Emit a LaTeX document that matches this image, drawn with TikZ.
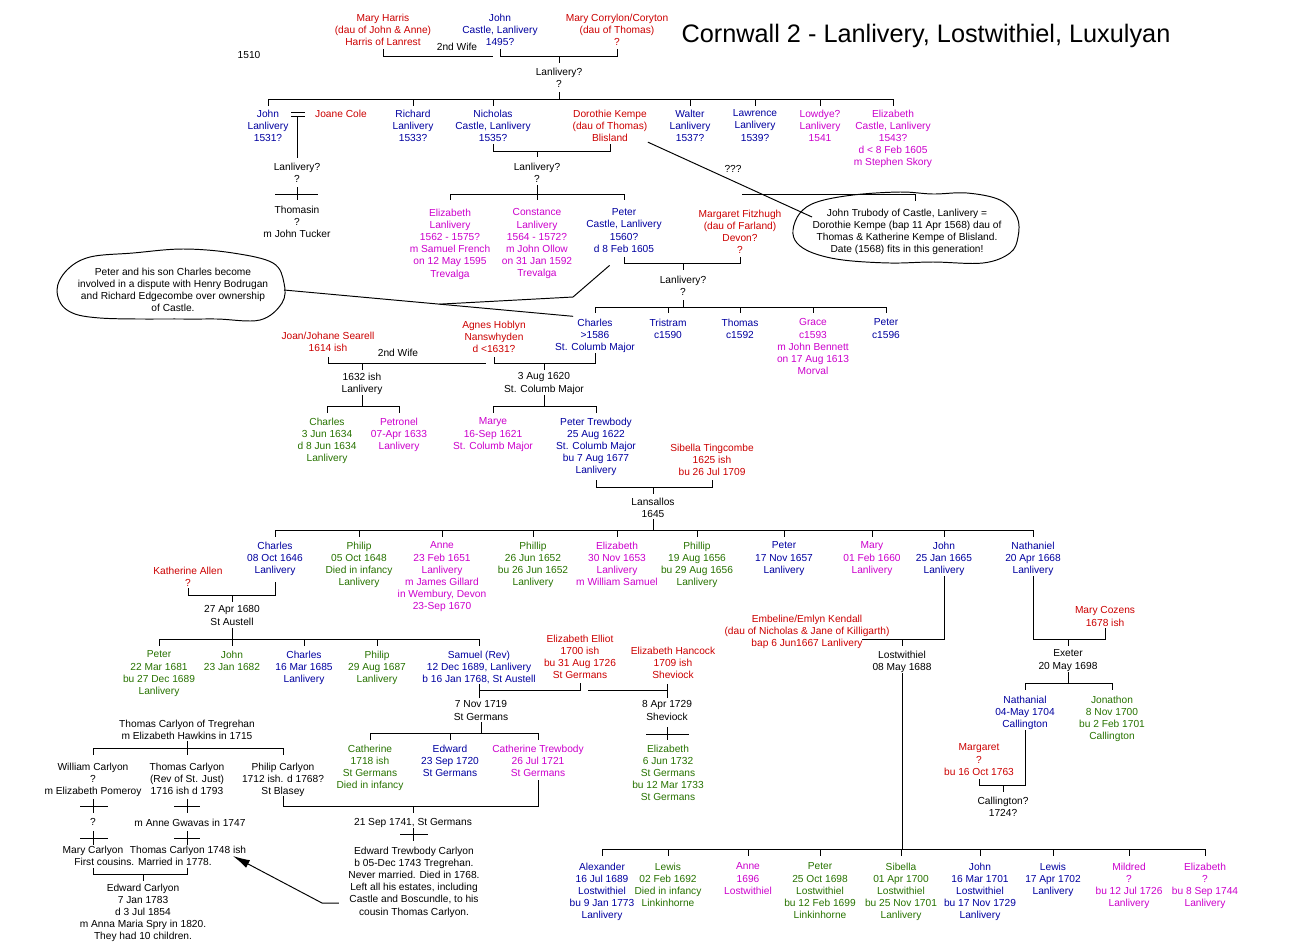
\documentclass[tikz,border=0pt]{standalone}
\usepackage{fontspec}
\setmainfont{Liberation Sans}
\usepackage{tikz}
\usetikzlibrary{calc, arrows.meta}
\tikzset{>=latex}
\definecolor{tRed}{RGB}{204,0,0}
\definecolor{tBlue}{RGB}{0,0,160}
\definecolor{tMag}{RGB}{204,0,204}
\definecolor{tGreen}{RGB}{40,115,0}

\begin{document}
\begin{tikzpicture}[x=0.02cm, y=-0.02cm, line width=0.55pt,
  person/.style={font=\fontsize{5.8}{6.94}\selectfont, align=center, inner sep=0pt, anchor=north, yshift=0.74mm},
  heading/.style={font=\fontsize{14.4}{17}\selectfont, inner sep=0pt, anchor=north},
  bubble/.style={draw=black, fill=white}]
\fill[white] (0,0) rectangle (1293,944);

% the two notes
\draw[bubble] plot[smooth cycle, tension=0.6] coordinates {(793,230) (800,213) (817,202) (853,195) (900,192) (933,194) (967,193) (1000,200) (1017,217) (1018,237) (1010,253) (983,263) (933,262) (890,263) (843,260) (813,253) (797,243)};
\draw[bubble] plot[smooth cycle, tension=0.6] coordinates {(57,290) (67,270) (90,257) (133,253) (183,249) (233,253) (273,263) (284,283) (282,303) (260,320) (217,319) (183,319) (100,318) (67,310)};
\node[person] (note1) at (907,212) {John Trubody of Castle, Lanlivery =\\Dorothie Kempe (bap 11 Apr 1568) dau of\\Thomas \& Katherine Kempe of Blisland.\\Date (1568) fits in this generation!};
\node[person] (note2) at (173,271) {Peter and his son Charles become\\involved in a dispute with Henry Bodrugan\\and Richard Edgecombe over ownership\\of Castle.};
\coordinate (c2r) at (284,290);

\node[heading] (title) at (926,24) {Cornwall 2 - Lanlivery, Lostwithiel, Luxulyan};
\node[person] (yr) at (249,55) {1510};

% John Castle and wives
\node[person, tRed] (mharris) at (383,17) {Mary Harris\\(dau of John \& Anne)\\Harris of Lanrest};
\node[person, tBlue] (jcastle) at (500,17) {John\\Castle, Lanlivery\\1495?};
\node[person, tRed] (mcoryton) at (617,17) {Mary Corrylon/Coryton\\(dau of Thomas)\\?};
\node[person] (wifea) at (457,46) {2nd Wife};
\node[person] (lanl1) at (559,71) {Lanlivery?\\?};
\coordinate (w2a) at (493,56);
\draw (mharris.south |- 0,49) |- (w2a);
\draw (jcastle.south |- 0,49) |- (mcoryton.south |- 0,56) -- (mcoryton.south |- 0,49);
\draw (lanl1.north |- 0,56) -- (lanl1.north |- 0,63);
\draw (lanl1.south |- 0,92) -- (lanl1.south |- 0,99);

\node[person, tBlue] (john1) at (268,113) {John\\Lanlivery\\1531?};
\node[person, tRed] (jcole) at (341,113) {Joane Cole};
\node[person, tBlue] (richard) at (413,113) {Richard\\Lanlivery\\1533?};
\node[person, tBlue] (nicholas) at (493,113) {Nicholas\\Castle, Lanlivery\\1535?};
\node[person, tRed] (dkempe) at (610,113) {Dorothie Kempe\\(dau of Thomas)\\Blisland};
\node[person, tBlue] (walter) at (690,113) {Walter\\Lanlivery\\1537?};
\node[person, tBlue] (lawrence) at (755,113) {Lawrence\\Lanlivery\\1539?};
\node[person, tMag] (lowdye) at (820,113) {Lowdye?\\Lanlivery\\1541};
\node[person, tMag] (eliz1) at (893,113) {Elizabeth\\Castle, Lanlivery\\1543?\\d < 8 Feb 1605\\m Stephen Skory};
\draw (john1.north |- 0,99) -- (eliz1.north |- 0,99);
\foreach \c in {john1,richard,nicholas,walter,lawrence,lowdye,eliz1}
  \draw (\c.north |- 0,99) -- (\c.north |- 0,106);

% John and Joane Cole
\node[person] (lanl2) at (297,166) {Lanlivery?\\?};
\node[person] (thomasin) at (297,209) {Thomasin\\?\\m John Tucker};
\draw (291,112) -- (305,112);
\draw (291,116) -- (305,116);
\draw (lanl2.north |- 0,116) -- (lanl2.north |- 0,158);
\draw (lanl2.south |- 0,187) -- (thomasin.north |- 0,200);
\draw (275,194) -- (318,194);

% Nicholas and Dorothie
\node[person] (lanl3) at (537,166) {Lanlivery?\\?};
\node[person] (qqq) at (733,169) {???};
\draw (nicholas.south |- 0,144) |- (dkempe.south |- 0,151) -- (dkempe.south |- 0,144);
\draw (lanl3.north |- 0,151) -- (lanl3.north |- 0,157);
\draw (lanl3.south |- 0,185) -- (lanl3.south |- 0,194);
\draw (dkempe.south east) -- (note1.west |- 0,217);

\node[person, tMag] (eliz2) at (450,212) {Elizabeth\\Lanlivery\\1562 - 1575?\\m Samuel French\\on 12 May 1595\\Trevalga};
\node[person, tMag] (constance) at (537,212) {Constance\\Lanlivery\\1564 - 1572?\\m John Ollow\\on 31 Jan 1592\\Trevalga};
\node[person, tBlue] (peter1) at (624,212) {Peter\\Castle, Lanlivery\\1560?\\d 8 Feb 1605};
\node[person, tRed] (mfitz) at (740,213) {Margaret Fitzhugh\\(dau of Farland)\\Devon?\\?};
\draw (eliz2.north |- 0,194) -- (peter1.north |- 0,194);
\foreach \c in {eliz2,constance,peter1}
  \draw (\c.north |- 0,194) -- (\c.north |- 0,200);
\draw (742,194) -- (915,194) -- (915,201);

% Peter and Margaret
\node[person] (lanl4) at (683,279) {Lanlivery?\\?};
\draw (peter1.south |- 0,257) |- (mfitz.south |- 0,263) -- (mfitz.south |- 0,257);
\draw (lanl4.north |- 0,263) -- (lanl4.north |- 0,270);
\draw (lanl4.south |- 0,300) -- (lanl4.south |- 0,307);

\node[person, tBlue] (charles1) at (595,322) {Charles\\>1586\\St. Columb Major};
\node[person, tBlue] (tristram) at (668,322) {Tristram\\c1590};
\node[person, tBlue] (thomas1) at (740,322) {Thomas\\c1592};
\node[person, tMag] (grace) at (813,322) {Grace\\c1593\\m John Bennett\\on 17 Aug 1613\\Morval};
\node[person, tBlue] (peter2) at (886,322) {Peter\\c1596};
\draw (charles1.north |- 0,307) -- (peter2.north |- 0,307);
\foreach \c in {charles1,tristram,thomas1,grace,peter2}
  \draw (\c.north |- 0,307) -- (\c.north |- 0,313);

% pointers of the left note
\draw[shorten >=0.44cm] (c2r) -- (charles1.north);
\draw[shorten >=0.38cm] ($(c2r)!.5!(charles1.north)$) -- (573,297) -- (peter1.south);

% Charles and his wives
\node[person, tRed] (joan) at (328,335) {Joan/Johane Searell\\1614 ish};
\node[person, tRed] (agnes) at (494,324) {Agnes Hoblyn\\Nanswhyden\\d <1631?};
\node[person] (wifeb) at (398,352) {2nd Wife};
\node[person] (m1632) at (362,376) {1632 ish\\Lanlivery};
\node[person] (m1620) at (544,376) {3 Aug 1620\\St. Columb Major};
\coordinate (w2b) at (486,363);
\draw (joan.south |- 0,357) |- (w2b);
\draw (agnes.south |- 0,357) |- (charles1.south |- 0,363) -- (charles1.south |- 0,353);
\draw (m1632.north |- 0,363) -- (m1632.north |- 0,370);
\draw (m1620.north |- 0,363) -- (m1620.north |- 0,370);
\draw (m1632.south |- 0,395) -- (m1632.south |- 0,406);
\draw (m1620.south |- 0,395) -- (m1620.south |- 0,406);

\node[person, tGreen] (charles2) at (327,421) {Charles\\3 Jun 1634\\d 8 Jun 1634\\Lanlivery};
\node[person, tMag] (petronel) at (399,421) {Petronel\\07-Apr 1633\\Lanlivery};
\node[person, tMag] (marye) at (493,421) {Marye\\16-Sep 1621\\St. Columb Major};
\node[person, tBlue] (ptrewbody) at (596,421) {Peter Trewbody\\25 Aug 1622\\St. Columb Major\\bu 7 Aug 1677\\Lanlivery};
\node[person, tRed] (sibella1) at (712,447) {Sibella Tingcombe\\1625 ish\\bu 26 Jul 1709};
\draw (charles2.north |- 0,406) -- (petronel.north |- 0,406);
\draw (marye.north |- 0,406) -- (ptrewbody.north |- 0,406);
\foreach \c in {charles2,petronel,marye,ptrewbody}
  \draw (\c.north |- 0,406) -- (\c.north |- 0,413);

% Peter Trewbody and Sibella
\node[person] (lansallos) at (653,501) {Lansallos\\1645};
\draw (ptrewbody.south |- 0,480) |- (sibella1.south |- 0,487) -- (sibella1.south |- 0,480);
\draw (lansallos.north |- 0,487) -- (lansallos.north |- 0,494);
\draw (lansallos.south |- 0,519) -- (lansallos.south |- 0,530);

\node[person, tBlue] (charles3) at (275,545) {Charles\\08 Oct 1646\\Lanlivery};
\node[person, tGreen] (philip1) at (359,545) {Philip\\05 Oct 1648\\Died in infancy\\Lanlivery};
\node[person, tMag] (anne1) at (442,545) {Anne\\23 Feb 1651\\Lanlivery\\m James Gillard\\in Wembury, Devon\\23-Sep 1670};
\node[person, tGreen] (phillip2) at (533,545) {Phillip\\26 Jun 1652\\bu 26 Jun 1652\\Lanlivery};
\node[person, tMag] (eliz3) at (617,545) {Elizabeth\\30 Nov 1653\\Lanlivery\\m William Samuel};
\node[person, tGreen] (phillip3) at (697,545) {Phillip\\19 Aug 1656\\bu 29 Aug 1656\\Lanlivery};
\node[person, tBlue] (peter3) at (784,545) {Peter\\17 Nov 1657\\Lanlivery};
\node[person, tMag] (mary1) at (872,545) {Mary\\01 Feb 1660\\Lanlivery};
\node[person, tBlue] (john2) at (944,545) {John\\25 Jan 1665\\Lanlivery};
\node[person, tBlue] (nathaniel) at (1033,545) {Nathaniel\\20 Apr 1668\\Lanlivery};
\draw (charles3.north |- 0,530) -- (nathaniel.north |- 0,530);
\foreach \c in {charles3,philip1,anne1,phillip2,eliz3,phillip3,peter3,mary1,john2,nathaniel}
  \draw (\c.north |- 0,530) -- (\c.north |- 0,537);

% Charles and Katherine Allen
\node[person, tRed] (kallen) at (188,570) {Katherine Allen\\?};
\node[person] (m1680) at (232,609) {27 Apr 1680\\St Austell};
\draw (kallen.south |- 0,588) |- (charles3.south |- 0,595) -- (charles3.south |- 0,582);
\draw (m1680.north |- 0,595) -- (m1680.north |- 0,602);
\draw (m1680.south |- 0,628) -- (m1680.south |- 0,639);

\node[person, tGreen] (peter4) at (159,654) {Peter\\22 Mar 1681\\bu 27 Dec 1689\\Lanlivery};
\node[person, tGreen] (john3) at (232,654) {John\\23 Jan 1682};
\node[person, tBlue] (charles4) at (304,654) {Charles\\16 Mar 1685\\Lanlivery};
\node[person, tGreen] (philip4) at (377,654) {Philip\\29 Aug 1687\\Lanlivery};
\node[person, tBlue] (samuel) at (479,654) {Samuel (Rev)\\12 Dec 1689, Lanlivery\\b 16 Jan 1768, St Austell};
\draw (peter4.north |- 0,639) -- (samuel.north |- 0,639);
\foreach \c in {peter4,john3,charles4,philip4,samuel}
  \draw (\c.north |- 0,639) -- (\c.north |- 0,646);

% Samuel and his wives
\node[person, tRed] (eelliot) at (580,638) {Elizabeth Elliot\\1700 ish\\bu 31 Aug 1726\\St Germans};
\node[person, tRed] (ehancock) at (673,650) {Elizabeth Hancock\\1709 ish\\Sheviock};
\node[person] (m1719) at (481,704) {7 Nov 1719\\St Germans};
\node[person] (m1729) at (667,704) {8 Apr 1729\\Sheviock};
\coordinate (hk) at (588,690);
\draw (samuel.south |- 0,684) -- (samuel.south |- 0,698);
\draw (samuel.south |- 0,690) -| (eelliot.south |- 0,683);
\draw (hk) -- (m1729.north |- 0,690);
\draw (m1729.north |- 0,684) -- (m1729.north |- 0,698);
\draw (m1729.south |- 0,727) -- (m1729.south |- 0,740);
\draw (646,734) -- (689,734);
\node[person, tGreen] (eliz4) at (668,748) {Elizabeth\\6 Jun 1732\\St Germans\\bu 12 Mar 1733\\St Germans};

\node[person, tGreen] (cath1) at (370,748) {Catherine\\1718 ish\\St Germans\\Died in infancy};
\node[person, tBlue] (edward1) at (450,748) {Edward\\23 Sep 1720\\St Germans};
\node[person, tMag] (cathtrew) at (538,748) {Catherine Trewbody\\26 Jul 1721\\St Germans};
\draw (m1719.south |- 0,722) -- (m1719.south |- 0,733);
\draw (cath1.north |- 0,733) -- (cathtrew.north |- 0,733);
\foreach \c in {cath1,edward1,cathtrew}
  \draw (\c.north |- 0,733) -- (\c.north |- 0,740);

% Carlyons of Tregrehan
\node[person] (tcarlyon) at (187,723) {Thomas Carlyon of Tregrehan\\m Elizabeth Hawkins in 1715};
\node[person] (wcarlyon) at (93,766) {William Carlyon\\?\\m Elizabeth Pomeroy};
\node[person] (tcarlyon2) at (187,766) {Thomas Carlyon\\(Rev of St. Just)\\1716 ish d 1793};
\node[person] (pcarlyon) at (283,766) {Philip Carlyon\\1712 ish. d 1768?\\St Blasey};
\draw (tcarlyon.south |- 0,741) -- (tcarlyon.south |- 0,748);
\draw (wcarlyon.north |- 0,748) -- (pcarlyon.north |- 0,748);
\foreach \c in {wcarlyon,tcarlyon2,pcarlyon}
  \draw (\c.north |- 0,748) -- (\c.north |- 0,755);

\node[person] (q1) at (93,822) {?};
\node[person] (manne) at (190,822) {m Anne Gwavas in 1747};
\node[person] (mary2) at (93,849) {Mary Carlyon};
\node[person] (tcarl3) at (188,849) {Thomas Carlyon 1748 ish};
\node[person] (cousins) at (143,861) {First cousins. Married in 1778.};
\node[person] (ecarlyon) at (143,887) {Edward Carlyon\\7 Jan 1783\\d 3 Jul 1854\\m Anna Maria Spry in 1820.\\They had 10 children.};
\draw (wcarlyon.south |- 0,799) -- (q1.north |- 0,813);
\draw (80,806) -- (108,806);
\draw (tcarlyon2.south |- 0,799) -- (tcarlyon2.south |- 0,813);
\draw (174,806) -- (200,806);
\draw (q1.south |- 0,831) -- (mary2.north |- 0,845);
\draw (80,838) -- (108,838);
\draw (tcarlyon2.south |- 0,831) -- (tcarlyon2.south |- 0,845);
\draw (174,838) -- (200,838);
\draw (mary2.south |- 0,868) |- (tcarlyon2.south |- 0,874) -- (tcarlyon2.south |- 0,868);
\draw (ecarlyon.north |- 0,874) -- (ecarlyon.north |- 0,881);

% Philip Carlyon and Catherine Trewbody
\node[person] (m1741) at (413,822) {21 Sep 1741, St Germans};
\node[person] (etc) at (414,850) {Edward Trewbody Carlyon\\b 05-Dec 1743 Tregrehan.\\Never married. Died in 1768.\\Left all his estates, including\\Castle and Boscundle, to his\\cousin Thomas Carlyon.};
\draw (pcarlyon.south |- 0,796) |- (cathtrew.south |- 0,806) -- (cathtrew.south |- 0,780);
\draw (m1741.north |- 0,806) -- (m1741.north |- 0,813);
\draw (m1741.south |- 0,828) -- (m1741.south |- 0,841);
\draw (400,834) -- (428,834);
\coordinate (arrtip) at (233,856);
\draw[-{Latex[length=3.4mm, width=1.7mm]}, shorten <=0.18cm] (etc.west |- 0,903) -- (322,903) -- (arrtip);

% John and Embeline Kendall
\node[person, tRed] (kendall) at (807,618) {Embeline/Emlyn Kendall\\(dau of Nicholas \& Jane of Killigarth)\\bap 6 Jun1667 Lanlivery};
\node[person] (m1688) at (902,654) {Lostwithiel\\08 May 1688};
\coordinate (kd) at (862,639);
\draw (kd) -| (john2.south);
\draw (m1688.north |- 0,639) -- (m1688.north |- 0,646);
\draw (m1688.south |- 0,673) -- (m1688.south |- 0,849);

\node[person, tBlue] (alexander) at (602,866) {Alexander\\16 Jul 1689\\Lostwithiel\\bu 9 Jan 1773\\Lanlivery};
\node[person, tGreen] (lewis1) at (668,866) {Lewis\\02 Feb 1692\\Died in infancy\\Linkinhorne};
\node[person, tMag] (anne2) at (748,866) {Anne\\1696\\Lostwithiel};
\node[person, tGreen] (peter5) at (820,866) {Peter\\25 Oct 1698\\Lostwithiel\\bu 12 Feb 1699\\Linkinhorne};
\node[person, tGreen] (sibella2) at (901,866) {Sibella\\01 Apr 1700\\Lostwithiel\\bu 25 Nov 1701\\Lanlivery};
\node[person, tBlue] (john4) at (980,866) {John\\16 Mar 1701\\Lostwithiel\\bu 17 Nov 1729\\Lanlivery};
\node[person, tBlue] (lewis2) at (1053,866) {Lewis\\17 Apr 1702\\Lanlivery};
\node[person, tMag] (mildred) at (1129,866) {Mildred\\?\\bu 12 Jul 1726\\Lanlivery};
\node[person, tMag] (eliz5) at (1205,866) {Elizabeth\\?\\bu 8 Sep 1744\\Lanlivery};
\draw (alexander.north |- 0,849) -- (eliz5.north |- 0,849);
\foreach \c in {alexander,lewis1,anne2,peter5,sibella2,john4,lewis2,mildred,eliz5}
  \draw (\c.north |- 0,849) -- (\c.north |- 0,856);

% Nathaniel and Mary Cozens
\node[person, tRed] (mcozens) at (1105,610) {Mary Cozens\\1678 ish};
\node[person] (m1698) at (1068,653) {Exeter\\20 May 1698};
\draw (nathaniel.south) |- (mcozens.south |- 0,639) -- (mcozens.south |- 0,628);
\draw (m1698.north |- 0,639) -- (m1698.north |- 0,646);
\draw (m1698.south |- 0,672) -- (m1698.south |- 0,683);
\node[person, tBlue] (nathanial) at (1025,699) {Nathanial\\04-May 1704\\Callington};
\node[person, tGreen] (jonathon) at (1112,699) {Jonathon\\8 Nov 1700\\bu 2 Feb 1701\\Callington};
\draw (nathanial.north |- 0,683) -- (jonathon.north |- 0,683);
\foreach \c in {nathanial,jonathon}
  \draw (\c.north |- 0,683) -- (\c.north |- 0,690);

\node[person, tRed] (margaret) at (979,747) {Margaret\\?\\bu 16 Oct 1763};
\node[person] (m1724) at (1003,800) {Callington?\\1724?};
\draw (margaret.south |- 0,779) |- (nathanial.south |- 0,785) -- (nathanial.south);
\draw (m1724.north |- 0,785) -- (m1724.north |- 0,792);
\end{tikzpicture}
\end{document}
